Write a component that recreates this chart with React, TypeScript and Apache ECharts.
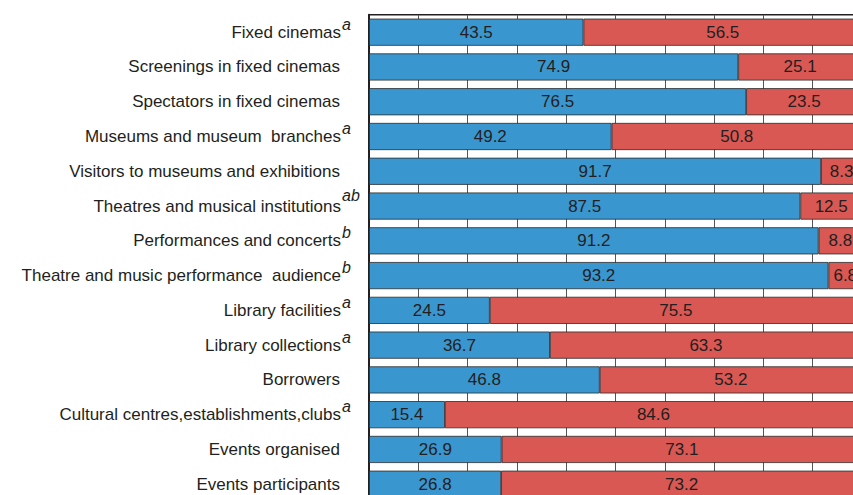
import React, { useEffect, useRef } from "react";
import * as echarts from "echarts";

const categories = [
  "Fixed cinemas",
  "Screenings in fixed cinemas",
  "Spectators in fixed cinemas",
  "Museums and museum  branches",
  "Visitors to museums and exhibitions",
  "Theatres and musical institutions",
  "Performances and concerts",
  "Theatre and music performance  audience",
  "Library facilities",
  "Library collections",
  "Borrowers",
  "Cultural centres,establishments,clubs",
  "Events organised",
  "Events participants",
];
const superscripts = ["a", "", "", "a", "", "ab", "b", "b", "a", "a", "", "a", "", ""];
const blueValues = [43.5, 74.9, 76.5, 49.2, 91.7, 87.5, 91.2, 93.2, 24.5, 36.7, 46.8, 15.4, 26.9, 26.8];
const redValues = [56.5, 25.1, 23.5, 50.8, 8.3, 12.5, 8.8, 6.8, 75.5, 63.3, 53.2, 84.6, 73.1, 73.2];

const FONT = "'Liberation Sans', Arial, Helvetica, sans-serif";
const TEXT = "#231f20";

export default function App() {
  const ref = useRef<HTMLDivElement>(null);
  useEffect(() => {
    if (!ref.current) return;
    const chart = echarts.init(ref.current, undefined, { renderer: "svg" });
    const labelStyle = {
      show: true,
      position: "inside",
      color: TEXT,
      fontSize: 17,
      fontFamily: FONT,
      formatter: (p: any) => p.value.toFixed(1),
    };
    const supBase = {
      fontSize: 16,
      fontStyle: "italic",
      color: TEXT,
      fontFamily: FONT,
      width: 1,
      align: "left",
    };
    chart.setOption({
      animation: false,
      grid: {
        left: 369,
        top: 14.8,
        width: 493,
        height: 486.8,
        show: true,
        borderColor: TEXT,
        borderWidth: 1.5,
        backgroundColor: "transparent",
      },
      xAxis: {
        type: "value",
        min: 0,
        max: 100,
        interval: 10,
        axisLabel: { show: false },
        axisTick: { show: false },
        axisLine: { show: false },
        splitLine: { show: true, lineStyle: { color: "#555", width: 1 } },
      },
      yAxis: {
        type: "category",
        inverse: true,
        data: categories,
        axisTick: { show: false },
        axisLine: { show: true, lineStyle: { color: TEXT, width: 2 } },
        axisLabel: {
          margin: 26,
          fontFamily: FONT,
          formatter: (value: string) => {
            const i = categories.indexOf(value);
            const s = superscripts[i];
            if (!s) return `{m|${value}}{e|}`;
            return s === "ab" ? `{m|${value}}{sab|${s}}` : `{m|${value}}{s|${s}}`;
          },
          rich: {
            m: { fontSize: 17, color: TEXT, fontFamily: FONT, align: "left" },
            e: { width: 3, align: "left" },
            s: { ...supBase, padding: [0, 0, 16, 1] },
            sab: { ...supBase, padding: [0, 0, 22, 1] },
          },
        },
      },
      series: [
        {
          type: "bar",
          stack: "total",
          data: blueValues,
          barCategoryGap: "22%",
          itemStyle: { color: "#3a96cf", borderColor: "#2b2b2b", borderWidth: 0.8 },
          label: labelStyle,
        },
        {
          type: "bar",
          stack: "total",
          data: redValues,
          barCategoryGap: "22%",
          itemStyle: { color: "#d95853", borderColor: "#2b2b2b", borderWidth: 0.8 },
          label: labelStyle,
        },
      ],
    });
    return () => chart.dispose();
  }, []);
  return (
    <div style={{ position: "fixed", left: 0, top: 0, width: 853, height: 495, overflow: "hidden", background: "#fff" }}>
      <div ref={ref} style={{ width: 880, height: 520 }} />
    </div>
  );
}
